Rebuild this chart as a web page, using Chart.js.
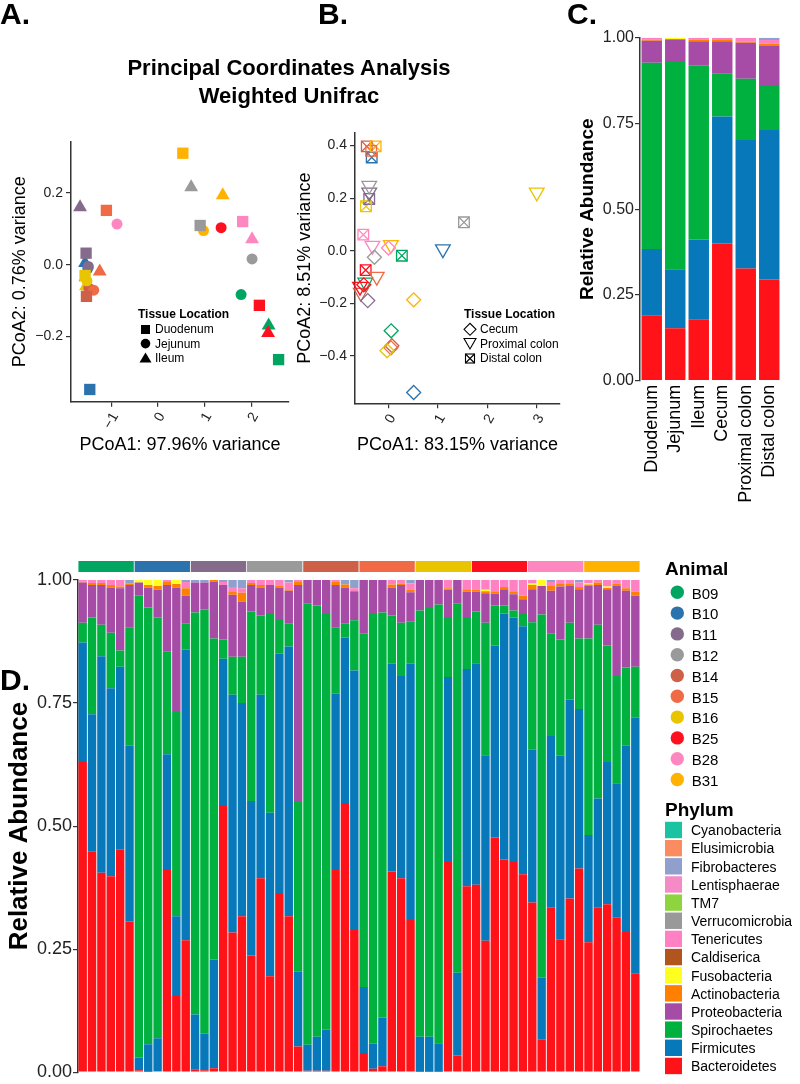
<!DOCTYPE html>
<html>
<head>
<meta charset="utf-8">
<script src="https://cdn.jsdelivr.net/npm/chart.js@4/dist/chart.umd.min.js"></script>
<style>
  body { margin: 0; background: #fff; font-family: "Liberation Sans", Arial, Helvetica, sans-serif; }
  #page { position: relative; width: 800px; height: 1084px; overflow: hidden; }
  canvas, svg { position: absolute; }
  .t { position: absolute; white-space: nowrap; line-height: 1; color: #000; }
</style>
</head>
<body>
<div id="page">
  <canvas id="pcoaA" width="300" height="340" style="left:0;top:120px"></canvas>
  <canvas id="pcoaB" width="280" height="340" style="left:290px;top:120px"></canvas>
  <canvas id="tissueBars" width="240" height="510" style="left:560px;top:10px"></canvas>
  <canvas id="sampleBars" width="650" height="524" style="left:0;top:560px"></canvas>
  <canvas id="animalStrip" width="562" height="11" style="left:78px;top:561px"></canvas>
  <svg id="keys" width="800" height="1084" style="left:0;top:0"></svg>
</div>
<script>
// --- animals / tissues ---
const animals = ['B09', 'B10', 'B11', 'B12', 'B14', 'B15', 'B16', 'B25', 'B28', 'B31'];
const animalColors = ['#00A562', '#2C73AE', '#846B8B', '#9A9A9A', '#CE6047', '#F06B45', '#E8C500', '#FF101E', '#FF87C0', '#FFB300'];
const tissues = ['Duodenum', 'Jejunum', 'Ileum', 'Cecum', 'Proximal colon', 'Distal colon'];
const stripValue = [1, 1, 1, 1, 1, 1, 1, 1, 1, 1];

// --- PCoA upper gut (one value per animal) ---
const duodenumX = [2.585, -1.459, -1.538, 0.905, -1.53, -1.103, -1.56, 2.173, 1.816, 0.534];
const duodenumY = [-0.264, -0.347, 0.032, 0.109, -0.088, 0.151, -0.030, -0.113, 0.120, 0.310];
const jejunumX = [1.782, -1.50, -1.49, 2.017, -1.48, -1.374, -1.52, 1.354, -0.876, 0.976];
const jejunumY = [-0.083, -0.010, -0.005, 0.016, -0.065, -0.071, -0.045, 0.103, 0.113, 0.095];
const ileumX = [2.372, -1.56, -1.667, 0.713, -1.55, -1.246, -1.54, 2.36, 2.017, 1.389];
const ileumY = [-0.169, 0.005, 0.160, 0.215, -0.035, -0.019, -0.060, -0.190, 0.071, 0.193];

// --- PCoA lower gut ---
const cecumX = [0.054, 0.509, -0.42, -0.285, 0.068, 0.05, -0.03, -0.50, 0.0, 0.509];
const cecumY = [-0.305, -0.54, -0.19, -0.025, -0.362, -0.37, -0.381, -0.13, 0.01, -0.187];
const proximalX = [-0.47, 1.10, -0.39, -0.39, -0.56, -0.238, 3.0, -0.577, -0.326, 0.047];
const proximalY = [-0.121, 0.006, 0.222, 0.248, -0.16, -0.099, 0.222, -0.137, 0.019, 0.022];
const distalX = [0.27, -0.34, -0.39, 1.527, -0.44, -0.35, -0.455, -0.462, -0.51, -0.26];
const distalY = [-0.019, 0.355, 0.197, 0.108, 0.397, 0.38, 0.169, -0.074, 0.061, 0.397];

// --- tick labels ---
const aXTicks = [-1, 0, 1, 2], aXLabels = ['\u22121', '0', '1', '2'];
const aYTicks = [-0.2, 0, 0.2], aYLabels = ['\u22120.2', '0.0', '0.2'];
const bXTicks = [0, 1, 2, 3], bXLabels = ['0', '1', '2', '3'];
const bYTicks = [-0.4, -0.2, 0, 0.2, 0.4], bYLabels = ['\u22120.4', '\u22120.2', '0.0', '0.2', '0.4'];
const abundTicks = [0, 0.25, 0.5, 0.75, 1], abundLabels = ['0.00', '0.25', '0.50', '0.75', '1.00'];

// --- phyla (legend order, top to bottom) ---
const phylumNames = ['Cyanobacteria', 'Elusimicrobia', 'Fibrobacteres', 'Lentisphaerae', 'TM7', 'Verrucomicrobia', 'Tenericutes',
  'Caldiserica', 'Fusobacteria', 'Actinobacteria', 'Proteobacteria', 'Spirochaetes', 'Firmicutes', 'Bacteroidetes'];
const phylumColors = ['#1CC3A0', '#FB8B61', '#8EA0CB', '#F68AC6', '#8DD43E', '#999999', '#FF80C3',
  '#B1541E', '#FFFF1F', '#FF7F00', '#A74CA6', '#00B140', '#0779BA', '#FF1319'];

// --- relative abundance per tissue (panel C) ---
const tissueBacteroidetes = [0.191, 0.153, 0.179, 0.400, 0.327, 0.295];
const tissueFirmicutes = [0.193, 0.172, 0.233, 0.370, 0.375, 0.436];
const tissueSpirochaetes = [0.543, 0.607, 0.506, 0.126, 0.178, 0.131];
const tissueProteobacteria = [0.064, 0.061, 0.072, 0.094, 0.105, 0.114];
const tissueActinobacteria = [0.004, 0.003, 0.005, 0.003, 0.004, 0.007];
const tissueFusobacteria = [0, 0.004, 0, 0, 0, 0];
const tissueTenericutes = [0.005, 0, 0.005, 0.007, 0.011, 0.010];
const tissueFibrobacteres = [0, 0, 0, 0, 0, 0.007];

// --- relative abundance per sample (panel D), 6 tissues per animal ---
const bacteroidetes = [
  0.630, 0.449, 0.405, 0.398, 0.453, 0.306,  0.004, 0.001, 0.002, 0.413, 0.155, 0.268,
  0.005, 0.004, 0.008, 0.543, 0.284, 0.317,  0.237, 0.394, 0.195, 0.364, 0.317, 0.052,
  0.003, 0.003, 0.003, 0.411, 0.547, 0.289,  0.039, 0.007, 0.012, 0.408, 0.394, 0.309,
  0.001, 0.001, 0.001, 0.429, 0.034, 0.378,  0.381, 0.267, 0.477, 0.432, 0.427, 0.402,
  0.345, 0.066, 0.334, 0.269, 0.353, 0.414,  0.264, 0.334, 0.341, 0.314, 0.285, 0.201];
const firmicutes = [
  0.243, 0.278, 0.440, 0.382, 0.371, 0.357,  0.026, 0.056, 0.067, 0.233, 0.162, 0.591,
  0.112, 0.074, 0.221, 0.297, 0.483, 0.433,  0.314, 0.373, 0.332, 0.486, 0.548, 0.152,
  0.053, 0.069, 0.084, 0.358, 0.336, 0.527,  0.134, 0.051, 0.099, 0.422, 0.411, 0.521,
  0.071, 0.071, 0.058, 0.374, 0.168, 0.441,  0.450, 0.377, 0.390, 0.500, 0.497, 0.504,
  0.310, 0.126, 0.349, 0.374, 0.404, 0.324,  0.218, 0.222, 0.289, 0.273, 0.378, 0.519];
const spirochaetes = [
  0.040, 0.197, 0.064, 0.113, 0.033, 0.241,  0.938, 0.887, 0.855, 0.209, 0.415, 0.052,
  0.817, 0.862, 0.652, 0.039, 0.077, 0.094,  0.385, 0.161, 0.404, 0.071, 0.046, 0.347,
  0.896, 0.876, 0.846, 0.135, 0.028, 0.102,  0.718, 0.875, 0.823, 0.098, 0.108, 0.086,
  0.866, 0.871, 0.891, 0.122, 0.750, 0.106,  0.105, 0.269, 0.081, 0.016, 0.014, 0.027,
  0.259, 0.738, 0.208, 0.236, 0.156, 0.143,  0.399, 0.353, 0.237, 0.218, 0.159, 0.104];
const proteobacteria = [
  0.082, 0.066, 0.081, 0.092, 0.126, 0.086,  0.027, 0.041, 0.056, 0.135, 0.253, 0.057,
  0.061, 0.055, 0.116, 0.111, 0.126, 0.112,  0.054, 0.057, 0.059, 0.064, 0.067, 0.439,
  0.048, 0.052, 0.067, 0.086, 0.074, 0.059,  0.109, 0.067, 0.066, 0.057, 0.077, 0.059,
  0.062, 0.057, 0.050, 0.055, 0.048, 0.051,  0.040, 0.060, 0.024, 0.033, 0.033, 0.028,
  0.067, 0.058, 0.087, 0.108, 0.075, 0.100,  0.108, 0.081, 0.114, 0.184, 0.156, 0.144];
const actinobacteria = [
  0.002, 0.004, 0.004, 0.005, 0.004, 0.003,  0, 0.005, 0.008, 0.006, 0.007, 0.015,
  0, 0, 0.003, 0, 0.007, 0.018,  0.004, 0.005, 0, 0.004, 0.003, 0.006,
  0, 0, 0, 0.006, 0.006, 0,  0, 0, 0, 0.006, 0.003, 0.005,
  0, 0, 0, 0.003, 0, 0.005,  0.004, 0.004, 0.005, 0.005, 0.006, 0.007,
  0.009, 0, 0.010, 0.005, 0.004, 0.005,  0.002, 0.005, 0.003, 0.004, 0.005, 0.008];
const fusobacteria = [
  0, 0, 0, 0, 0, 0,  0.005, 0.010, 0.012, 0, 0.008, 0,
  0, 0, 0, 0, 0, 0,  0, 0, 0, 0, 0, 0,
  0, 0, 0, 0, 0, 0,  0, 0, 0, 0, 0, 0,
  0, 0, 0, 0, 0, 0,  0, 0.003, 0, 0, 0, 0,
  0.003, 0.012, 0, 0, 0, 0,  0.003, 0, 0.003, 0, 0, 0];
const tenericutes = [
  0.003, 0.006, 0.006, 0.010, 0.013, 0,  0, 0, 0, 0.004, 0, 0.013,
  0, 0, 0, 0.006, 0.009, 0.009,  0.006, 0.010, 0.010, 0.011, 0.014, 0.004,
  0, 0, 0, 0.004, 0, 0.006,  0, 0, 0, 0.009, 0.007, 0.013,
  0, 0, 0, 0.017, 0, 0.019,  0.020, 0.020, 0.023, 0.014, 0.023, 0.032,
  0.007, 0, 0.008, 0.008, 0.008, 0.009,  0.006, 0.005, 0.013, 0.007, 0.017, 0.024];
const fibrobacteres = [
  0, 0, 0, 0, 0, 0.007,  0, 0, 0, 0, 0, 0.004,
  0.005, 0.005, 0, 0.004, 0.014, 0.017,  0, 0, 0, 0, 0.005, 0,
  0, 0, 0, 0, 0.009, 0.017,  0, 0, 0, 0, 0, 0.007,
  0, 0, 0, 0, 0, 0,  0, 0, 0, 0, 0, 0,
  0, 0, 0.004, 0, 0, 0.005,  0, 0, 0, 0, 0, 0];

// ---------------------------------------------------------------
const FONT = '"Liberation Sans", Arial, Helvetica, sans-serif';
const AXIS = '#333';
Chart.defaults.font.family = FONT;
Chart.defaults.color = '#222';
Chart.defaults.animation = false;
Chart.defaults.responsive = false;
Chart.defaults.devicePixelRatio = 1;
Chart.defaults.events = [];
Chart.defaults.plugins.legend.display = false;
Chart.defaults.plugins.tooltip.enabled = false;

const page = document.getElementById('page');
const keys = document.getElementById('keys');

function pts(xs, ys) {
  return xs.map((x, i) => ({ x: x, y: ys[i] }));
}

// linear axis with fixed ticks, a fixed box size and ggplot-like axis line
function axis(min, max, values, labels, size, extra) {
  const horizontal = extra.horizontal;
  return Object.assign({
    type: 'linear',
    min: min,
    max: max,
    afterBuildTicks: s => { s.ticks = values.map(v => ({ value: v })); },
    afterFit: s => { if (horizontal) s.height = size; else s.width = size; },
    border: { display: true, color: AXIS, width: 1.5 },
    grid: { drawOnChartArea: false, tickLength: 5, color: AXIS, lineWidth: 1.2 },
    ticks: Object.assign({ callback: (v, i) => labels[i], color: '#222', font: { size: 14 }, padding: 2 }, extra.ticks || {}),
    title: extra.title
  }, extra.more || {});
}

// --- Panel A ---
new Chart(document.getElementById('pcoaA'), {
  type: 'scatter',
  data: {
    datasets: [
      { data: pts(duodenumX, duodenumY), pointStyle: 'rect', pointRadius: 8, pointBackgroundColor: animalColors, pointBorderWidth: 0, clip: false },
      { data: pts(jejunumX, jejunumY), pointStyle: 'circle', pointRadius: 5.5, pointBackgroundColor: animalColors, pointBorderWidth: 0, clip: false },
      { data: pts(ileumX, ileumY), pointStyle: 'triangle', pointRadius: 8, pointBackgroundColor: animalColors, pointBorderWidth: 0, clip: false }
    ]
  },
  options: {
    layout: { padding: { top: 21.7, right: 11, left: 0, bottom: 0 } },
    scales: {
      x: axis(-1.861, 2.808, aXTicks, aXLabels, 58.3, {
        horizontal: true,
        ticks: { minRotation: 60, maxRotation: 60, padding: 3, labelOffset: 4 },
        title: { display: true, text: 'PCoA1: 97.96% variance', color: '#000', font: { size: 18 }, padding: { top: 0, bottom: 4 } }
      }),
      y: axis(-0.381, 0.342, aYTicks, aYLabels, 71, {
        ticks: { padding: 3 },
        title: { display: true, text: 'PCoA2: 0.76% variance', color: '#000', font: { size: 18 }, padding: { top: 9.7, bottom: 0 } }
      })
    }
  }
});

// --- Panel B ---
const hollow = { pointBackgroundColor: 'rgba(0,0,0,0)', pointBorderColor: animalColors, pointBorderWidth: 1.3, clip: false };
new Chart(document.getElementById('pcoaB'), {
  type: 'scatter',
  data: {
    datasets: [
      Object.assign({ data: pts(cecumX, cecumY), pointStyle: 'rectRot', pointRadius: 7 }, hollow),
      Object.assign({ data: pts(proximalX, proximalY), pointStyle: 'triangle', pointRotation: 180, pointRadius: 8.5 }, hollow),
      Object.assign({ data: pts(distalX, distalY), pointStyle: 'rect', pointRadius: 7.5 }, hollow),
      Object.assign({ data: pts(distalX, distalY), pointStyle: 'crossRot', pointRadius: 7.5 }, hollow)
    ]
  },
  options: {
    layout: { padding: { top: 13, right: 10, left: 0, bottom: 0 } },
    scales: {
      x: axis(-0.678, 3.47, bXTicks, bXLabels, 56.7, {
        horizontal: true,
        ticks: { minRotation: 60, maxRotation: 60, padding: 3, labelOffset: 4 },
        title: { display: true, text: 'PCoA1: 83.15% variance', color: '#000', font: { size: 18 }, padding: { top: 0, bottom: 4 } }
      }),
      y: axis(-0.581, 0.448, bYTicks, bYLabels, 65, {
        ticks: { padding: 3 },
        title: { display: true, text: 'PCoA2: 8.51% variance', color: '#000', font: { size: 18 }, padding: { top: 4.7, bottom: 0 } }
      })
    }
  }
});

// --- stacked bars helper ---
function stackSets(byPhylum, catPct) {
  return phylumNames.slice().reverse()
    .filter(name => byPhylum[name])
    .map(name => ({
      label: name,
      data: byPhylum[name],
      backgroundColor: phylumColors[phylumNames.indexOf(name)],
      borderWidth: 0,
      categoryPercentage: catPct,
      barPercentage: 1
    }));
}

// --- Panel C ---
new Chart(document.getElementById('tissueBars'), {
  type: 'bar',
  data: {
    labels: tissues,
    datasets: stackSets({
      Bacteroidetes: tissueBacteroidetes, Firmicutes: tissueFirmicutes, Spirochaetes: tissueSpirochaetes,
      Proteobacteria: tissueProteobacteria, Actinobacteria: tissueActinobacteria, Fusobacteria: tissueFusobacteria,
      Tenericutes: tissueTenericutes, Fibrobacteres: tissueFibrobacteres
    }, 0.87)
  },
  options: {
    layout: { padding: { top: 27.7, right: 19, left: 0, bottom: 0 } },
    scales: {
      x: {
        stacked: true,
        afterFit: s => { s.height = 139.3; },
        grid: { display: false, drawTicks: false },
        border: { display: false },
        ticks: { autoSkip: false, minRotation: 90, maxRotation: 90, padding: 4, color: '#000', font: { size: 18 } }
      },
      y: axis(0, 1, abundTicks, abundLabels, 80, {
        ticks: { font: { size: 16 }, padding: 1 },
        title: { display: true, text: 'Relative Abundance', color: '#000', font: { size: 19, weight: 'bold' }, padding: { top: 16, bottom: 0 } },
        more: { stacked: true }
      })
    }
  }
});

// --- Panel D ---
const sampleLabels = animals.flatMap(a => tissues.map(t => a + ' ' + t));
new Chart(document.getElementById('sampleBars'), {
  type: 'bar',
  data: {
    labels: sampleLabels,
    datasets: stackSets({
      Bacteroidetes: bacteroidetes, Firmicutes: firmicutes, Spirochaetes: spirochaetes,
      Proteobacteria: proteobacteria, Actinobacteria: actinobacteria, Fusobacteria: fusobacteria,
      Tenericutes: tenericutes, Fibrobacteres: fibrobacteres
    }, 0.9)
  },
  options: {
    layout: { padding: { top: 20, right: 10, left: 0, bottom: 7 } },
    scales: {
      x: { stacked: true, display: false },
      y: axis(0, 1, abundTicks, abundLabels, 78, {
        ticks: { font: { size: 18 }, padding: 1 },
        title: { display: true, text: 'Relative Abundance', color: '#000', font: { size: 26, weight: 'bold' }, padding: { top: 4, bottom: 0 } },
        more: { stacked: true }
      })
    }
  }
});

// animal strip above panel D
new Chart(document.getElementById('animalStrip'), {
  type: 'bar',
  data: {
    labels: animals,
    datasets: [{ data: stripValue, backgroundColor: animalColors, borderWidth: 0, categoryPercentage: 0.985, barPercentage: 1 }]
  },
  options: {
    layout: { padding: 0 },
    scales: { x: { display: false }, y: { display: false, min: 0, max: 1 } }
  }
});

// --- text helpers ---
function addText(str, x, baseline, size, bold, center) {
  const el = document.createElement('div');
  el.className = 't';
  el.textContent = str;
  el.style.fontSize = size + 'px';
  el.style.left = x + 'px';
  el.style.top = (baseline - 0.8465 * size) + 'px';
  if (bold) el.style.fontWeight = 'bold';
  if (center) el.style.transform = 'translateX(-50%)';
  page.appendChild(el);
}
function addShape(tag, attrs) {
  const el = document.createElementNS('http://www.w3.org/2000/svg', tag);
  for (const k in attrs) el.setAttribute(k, attrs[k]);
  keys.appendChild(el);
}

// panel letters and title
addText('A.', 0, 24.5, 30, true);
addText('B.', 318, 24.5, 30, true);
addText('C.', 567, 24.5, 30, true);
addText('D.', 0, 690, 30, true);
addText('Principal Coordinates Analysis', 289, 76, 22, true, true);
addText('Weighted Unifrac', 289, 103.5, 22, true, true);

// tissue keys for A and B
const keyBase = [333.5, 347.8, 362.3];
addText('Tissue Location', 138, 318, 12, true);
['Duodenum', 'Jejunum', 'Ileum'].forEach((t, i) => addText(t, 155, keyBase[i], 12));
addShape('rect', { x: 141, y: 325, width: 9, height: 9, fill: '#000' });
addShape('circle', { cx: 145.5, cy: 343.6, r: 4.8, fill: '#000' });
addShape('polygon', { points: '139.5,362.6 151.5,362.6 145.5,352.4', fill: '#000' });

addText('Tissue Location', 464, 318, 12, true);
['Cecum', 'Proximal colon', 'Distal colon'].forEach((t, i) => addText(t, 480, keyBase[i], 12));
const sk = { fill: 'none', stroke: '#000', 'stroke-width': 1.1 };
addShape('polygon', Object.assign({ points: '464,329.3 470,323.3 476,329.3 470,335.3' }, sk));
addShape('polygon', Object.assign({ points: '464,338.5 476,338.5 470,349' }, sk));
addShape('rect', Object.assign({ x: 465.5, y: 354, width: 9, height: 9 }, sk));
addShape('path', Object.assign({ d: 'M465.5,354 L474.5,363 M474.5,354 L465.5,363' }, sk));

// animal key
addText('Animal', 665, 575, 19, true);
animals.forEach((a, i) => {
  const cy = 592.3 + i * 20.8;
  addShape('circle', { cx: 677.3, cy: cy, r: 6.7, fill: animalColors[i] });
  addText(a, 691.7, cy + 6, 15);
});

// phylum key
addText('Phylum', 665, 816, 19, true);
phylumNames.forEach((p, i) => {
  const cy = 830 + i * 18.15;
  addShape('rect', { x: 665, y: cy - 8.2, width: 17, height: 16.4, fill: phylumColors[i] });
  addText(p, 691, cy + 5.2, 14);
});
</script>
</body>
</html>
